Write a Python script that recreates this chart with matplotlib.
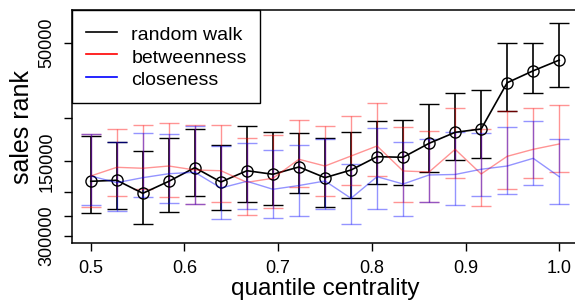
import numpy as np
import matplotlib
matplotlib.use("Agg")
import matplotlib.pyplot as plt
from matplotlib.lines import Line2D

plt.rcParams['font.family'] = ['Liberation Sans', 'DejaVu Sans']

# quantile centrality bins
x = [0.5 + k / 36 for k in range(19)]

# random walk: mean sales rank and error bar ends
rw_mean = [180600, 178900, 201900, 180600, 159100, 181800, 163700, 169200, 158100, 174600,
           162600, 143700, 144500, 126900, 114600, 111100, 72300, 64700, 58600]
rw_lo = [118200, 125700, 136700, 120800, 111400, 128600, 107800, 113900, 115000, 121100,
         113900, 103200, 102200, 88300, 79800, 77400, 50100, 50100, 41600]
rw_hi = [243000, 233600, 268400, 240100, 207000, 235700, 218800, 225000, 200700, 228600,
         211800, 185200, 186900, 164900, 148200, 145000, 94000, 79300, 75400]

# betweenness
bt_mean = [171900, 158600, 160000, 156700, 162600, 163700, 182300, 175600, 147200, 156700,
           142800, 130100, 164100, 165600, 134200, 168700, 143200, 134200, 127700]
bt_lo = [116900, 111100, 107400, 105400, 107400, 107100, 120500, 117500, 101900, 108100,
         98500, 87500, 108800, 113500, 91700, 110800, 93700, 91700, 89200]
bt_hi = [229900, 206400, 193900, 208300, 222300, 218800, 247600, 232100, 190900, 207000,
         186900, 171900, 219500, 218300, 174600, 227800, 193400, 175600, 165600]

# closeness
cl_mean = [171900, 182900, 174600, 168300, 166100, 192200, 180600, 194500, 187800, 180100,
           211500, 173000, 185200, 170300, 169500, 161500, 156700, 145900, 173000]
cl_lo = [116400, 125400, 115000, 116400, 108100, 129800, 126900, 135400, 128600, 121600,
         153800, 109800, 125000, 122300, 113900, 115600, 108800, 103400, 122300]
cl_hi = [224400, 237300, 209500, 221500, 222300, 256300, 232900, 254600, 249200, 234200,
         269200, 234200, 248500, 218300, 225000, 206400, 203700, 187400, 223000]

y_ticks = [50000, 100000, 150000, 200000, 250000, 300000]
y_labels = ['50000', '', '150000', '', '', '300000']
x_ticks = [0.5, 0.6, 0.7, 0.8, 0.9, 1.0]

fig = plt.figure(figsize=(5.75, 3.06), dpi=100)
ax = fig.add_axes([72 / 575, 63 / 306, 506 / 575, 233 / 306])


def err(mean, lo, hi):
    m = np.array(mean)
    return m, [m - np.array(lo), np.array(hi) - m]


m, e = err(rw_mean, rw_lo, rw_hi)
ax.errorbar(x, m, yerr=e, color='black', lw=1.2, capsize=7, capthick=1.2,
            marker='o', ms=8, mfc='none', mec='black', mew=1.0)
m, e = err(bt_mean, bt_lo, bt_hi)
ax.errorbar(x, m, yerr=e, color='red', lw=1.0, capsize=7, capthick=1.0, alpha=0.42)
m, e = err(cl_mean, cl_lo, cl_hi)
ax.errorbar(x, m, yerr=e, color='blue', lw=1.0, capsize=7, capthick=1.0, alpha=0.42)

ax.set_yscale('log')
ax.set_ylim(320300, 36800)
ax.set_xlim(0.48, 1.02)
ax.yaxis.set_minor_locator(matplotlib.ticker.NullLocator())
ax.set_yticks(y_ticks)
ax.set_yticklabels(y_labels, rotation=90, va='center')
ax.set_xticks(x_ticks)
ax.set_xticklabels([f"{t:.1f}" for t in x_ticks])
ax.tick_params(length=6, width=1, labelsize=13, pad=6)
for s in ax.spines.values():
    s.set_linewidth(1.1)

ax.set_xlabel('quantile centrality', fontsize=17.5, labelpad=1)
ax.set_ylabel('sales rank', fontsize=18, labelpad=3)

handles = [Line2D([], [], color=c, lw=1.2) for c in ['black', 'red', 'blue']]
leg = ax.legend(handles, ['random walk', 'betweenness', 'closeness'], loc='upper left',
                bbox_to_anchor=(0, 1), borderaxespad=0, fancybox=False, fontsize=14,
                handlelength=1.6, handleheight=1.25, handletextpad=0.75, labelspacing=0.08,
                borderpad=0.7, framealpha=1)
leg.get_frame().set_edgecolor('black')
leg.get_frame().set_linewidth(1.0)

fig.savefig('out.png', dpi=100)
